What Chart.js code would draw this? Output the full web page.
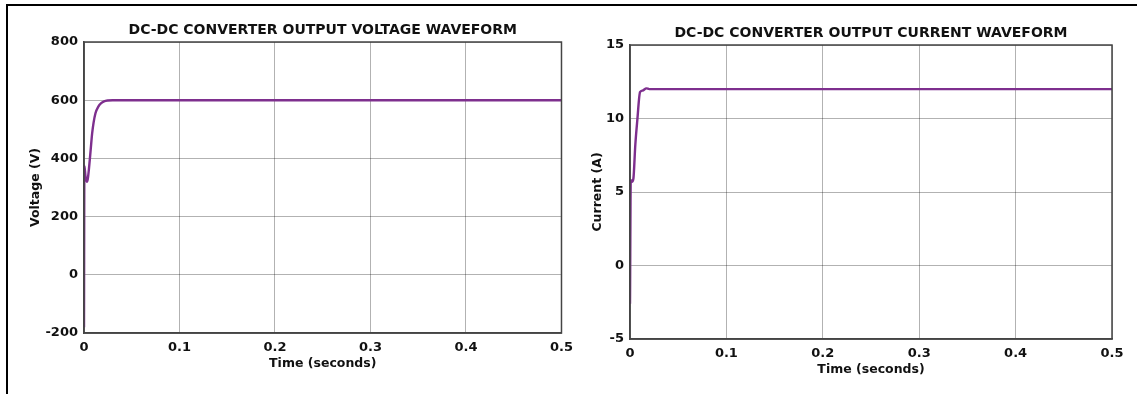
<!DOCTYPE html>
<html lang="en">
<head>
    <meta charset="UTF-8">
    <title>DC-DC Converter Output</title>
    <script src="https://cdn.jsdelivr.net/npm/chart.js"></script>
    <style>
        body {
            margin: 0;
            background: #ffffff;
            font-family: 'DejaVu Sans', sans-serif;
        }
        #page {
            position: relative;
            width: 1137px;
            height: 394px;
            overflow: hidden;
        }
        #frame {
            position: absolute;
            left: 6px;
            top: 4px;
            right: -10px;
            bottom: -10px;
            border-top: 2px solid #000;
            border-left: 2px solid #000;
        }
        #box-left, #box-right {
            position: absolute;
            top: 0;
            height: 394px;
        }
        #box-left { left: 0; width: 580px; }
        #box-right { left: 560px; width: 577px; }
    </style>
</head>
<body>
<div id="page">
    <div id="frame"></div>
    <div id="box-left"><canvas id="voltageChart"></canvas></div>
    <div id="box-right"><canvas id="currentChart"></canvas></div>
</div>

<script>
    // Voltage waveform (time in s, volts)
    const voltTime   = [0, 0.0004, 0.0015, 0.003, 0.004, 0.0055, 0.007, 0.0085, 0.010, 0.012, 0.015, 0.018, 0.021, 0.025, 0.03, 0.1, 0.2, 0.3, 0.4, 0.5];
    const voltValues = [-180, 375, 340, 320, 330, 375, 430, 485, 522, 555, 578, 590, 596, 599, 600, 600, 600, 600, 600, 600];

    // Current waveform (time in s, amps)
    const currTime   = [0, 0.0008, 0.002, 0.0035, 0.0055, 0.0076, 0.0104, 0.013, 0.017, 0.02, 0.1, 0.2, 0.3, 0.4, 0.5];
    const currValues = [-2.6, 5.8, 5.7, 5.9, 8.2, 9.9, 11.8, 11.9, 12.05, 12.0, 12.0, 12.0, 12.0, 12.0, 12.0];

    const xTicks = [0, 0.1, 0.2, 0.3, 0.4, 0.5];
    const voltTicks = [-200, 0, 200, 400, 600, 800];
    const currTicks = [-5, 0, 5, 10, 15];

    const lineColor = '#7e2f8e';
    const textColor = '#111111';

    // draw the full axes box (top and right edges too)
    const boxPlugin = {
        id: 'axesBox',
        afterDraw(chart) {
            const a = chart.chartArea;
            const ctx = chart.ctx;
            ctx.save();
            ctx.strokeStyle = '#444444';
            ctx.lineWidth = 1.5;
            ctx.strokeRect(a.left, a.top, a.right - a.left, a.bottom - a.top);
            ctx.restore();
        }
    };

    function makeChart(canvasId, times, values, yTicks, opts) {
        const points = times.map((t, i) => ({ x: t, y: values[i] }));
        return new Chart(document.getElementById(canvasId), {
            type: 'line',
            data: {
                datasets: [{
                    data: points,
                    borderColor: lineColor,
                    borderWidth: 2.4,
                    pointRadius: 0,
                    cubicInterpolationMode: 'monotone',
                    fill: false
                }]
            },
            options: {
                responsive: true,
                maintainAspectRatio: false,
                animation: false,
                layout: { padding: { left: 0, right: opts.padRight, top: 0, bottom: 0 } },
                plugins: {
                    legend: { display: false },
                    tooltip: { enabled: false },
                    title: {
                        display: true,
                        fullSize: false, // centre over the plot area, like the original
                        text: opts.title,
                        color: textColor,
                        font: { family: 'DejaVu Sans', size: 14, weight: 'bold' },
                        padding: { top: opts.titleTop, bottom: opts.titleBottom }
                    }
                },
                scales: {
                    x: {
                        type: 'linear',
                        min: 0,
                        max: 0.5,
                        afterBuildTicks: s => { s.ticks = xTicks.map(v => ({ value: v })); },
                        afterFit: s => { s.height = opts.xHeight; },
                        ticks: {
                            color: textColor,
                            padding: 7,
                            maxRotation: 0,
                            font: { family: 'DejaVu Sans', size: 13, weight: 'bold' },
                            callback: v => String(v)
                        },
                        grid: { color: 'rgba(0,0,0,0.3)', lineWidth: 1, drawTicks: false },
                        border: { color: '#444444', width: 1.5 },
                        title: {
                            display: true,
                            text: 'Time (seconds)',
                            color: textColor,
                            font: { family: 'DejaVu Sans', size: 12.5, weight: 'bold' },
                            padding: { top: 0, bottom: opts.xTitlePad }
                        }
                    },
                    y: {
                        min: yTicks[0],
                        max: yTicks[yTicks.length - 1],
                        afterBuildTicks: s => { s.ticks = yTicks.map(v => ({ value: v })); },
                        afterFit: s => { s.width = opts.yWidth; },
                        ticks: {
                            color: textColor,
                            padding: 6,
                            font: { family: 'DejaVu Sans', size: 13, weight: 'bold' }
                        },
                        grid: { color: 'rgba(0,0,0,0.3)', lineWidth: 1, drawTicks: false },
                        border: { color: '#444444', width: 1.5 },
                        title: {
                            display: true,
                            text: opts.yTitle,
                            color: textColor,
                            font: { family: 'DejaVu Sans', size: 12.5, weight: 'bold' },
                            padding: { top: opts.yTitlePad, bottom: 0 }
                        }
                    }
                }
            },
            plugins: [boxPlugin]
        });
    }

    makeChart('voltageChart', voltTime, voltValues, voltTicks, {
        title: 'DC-DC CONVERTER OUTPUT VOLTAGE WAVEFORM',
        yTitle: 'Voltage (V)',
        padRight: 18,
        titleTop: 21.6,
        titleBottom: 3.6,
        xHeight: 61,
        xTitlePad: 22.5,
        yWidth: 84,
        yTitlePad: 28.5
    });

    makeChart('currentChart', currTime, currValues, currTicks, {
        title: 'DC-DC CONVERTER OUTPUT CURRENT WAVEFORM',
        yTitle: 'Current (A)',
        padRight: 25,
        titleTop: 24.6,
        titleBottom: 3.6,
        xHeight: 55,
        xTitlePad: 16.5,
        yWidth: 70,
        yTitlePad: 30.5
    });
</script>
</body>
</html>
